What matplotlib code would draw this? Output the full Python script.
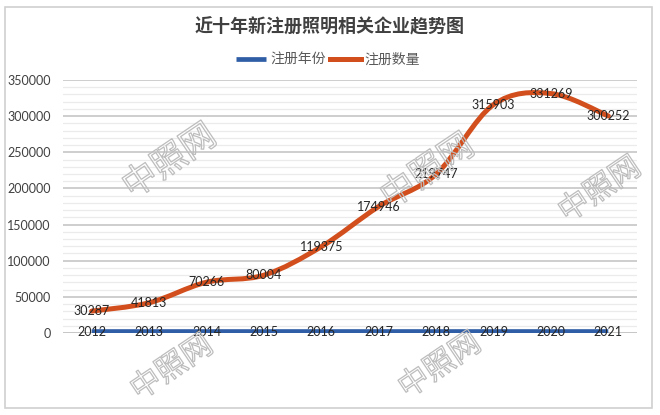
import numpy as np
import matplotlib
matplotlib.use('Agg')
import matplotlib.pyplot as plt
from matplotlib.path import Path
from matplotlib.patches import PathPatch, Rectangle
import matplotlib.patheffects as pe

plt.rcParams['font.family'] = ['Noto Sans CJK SC', 'DejaVu Sans']

# data
years = [2012, 2013, 2014, 2015, 2016, 2017, 2018, 2019, 2020, 2021]
counts = [30287, 41813, 70266, 80004, 119375, 174946, 219747, 315903, 331269, 300252]
title = '近十年新注册照明相关企业趋势图'
series_names = ['注册年份', '注册数量']
y_ticks = [0, 50000, 100000, 150000, 200000, 250000, 300000, 350000]

blue = '#2F5DA6'
orange = '#D24E1C'
num_font = ['Lato', 'DejaVu Sans']


def smooth_path(xs, ys):
    # excel-like smoothed line as cubic bezier segments through the points
    pts = np.column_stack([xs, ys]).astype(float)
    n = len(pts)
    verts = [pts[0]]
    codes = [Path.MOVETO]
    for i in range(n - 1):
        p0 = pts[max(i - 1, 0)]
        p1 = pts[i]
        p2 = pts[i + 1]
        p3 = pts[min(i + 2, n - 1)]
        c1 = p1 + (p2 - p0) / 6.0
        c2 = p2 - (p3 - p1) / 6.0
        verts += [c1, c2, p2]
        codes += [Path.CURVE4] * 3
    return Path(verts, codes)


fig = plt.figure(figsize=(6.6, 4.15), dpi=100)
fig.patch.set_facecolor('white')

# outer chart border
fig.patches.append(Rectangle((5 / 660, 7 / 415), 647 / 660, 401 / 415, transform=fig.transFigure,
                             fill=False, edgecolor='#D0D0D0', linewidth=1.2))

ax = fig.add_axes([63 / 660, 82 / 415, 574 / 660, 253 / 415])
x = np.arange(len(years))

ax.set_xlim(-0.5, len(years) - 0.5)
ax.set_ylim(0, 350000)
ax.set_yticks(y_ticks)
ax.set_yticklabels([str(v) for v in y_ticks], fontfamily=num_font, fontsize=9, color='#404040')
ax.set_yticks(np.arange(0, 350001, 10000), minor=True)
ax.tick_params(axis='y', which='both', length=0, pad=9)
ax.set_xticks([])
ax.grid(axis='y', which='major', color='#C6C6C6', linewidth=1.2, zorder=0)
ax.grid(axis='y', which='minor', color='#EBEBEB', linewidth=0.9, zorder=0)
for s in ax.spines.values():
    s.set_visible(False)
ax.axhline(0, color='#C6C6C6', linewidth=1.2, zorder=1)

# watermarks (kept inside the picture)
wm = [(170, 162, 25), (428, 172, 25), (600, 190, 22), (172, 368, 22), (440, 366, 22)]
for px, py, fs in wm:
    fig.text(px / 660, 1 - py / 415, '中照网', fontsize=fs, rotation=34, ha='center', va='center',
             color='none', zorder=0,
             path_effects=[pe.Stroke(linewidth=0.9, foreground='#BDBDBD')])

# series
ax.plot(x, years, color=blue, linewidth=3.4, solid_capstyle='butt', zorder=3, label=series_names[0])
ax.add_patch(PathPatch(smooth_path(x, counts), facecolor='none', edgecolor=orange,
                       linewidth=3.6, capstyle='round', zorder=3))
ax.plot([], [], color=orange, linewidth=3.6, label=series_names[1])

for xi, yv in zip(x, years):
    ax.text(xi, yv, str(yv), ha='center', va='center', fontfamily=num_font, fontsize=9,
            color='#262626', zorder=4)
for xi, c in zip(x, counts):
    ax.text(xi, c, str(c), ha='center', va='center', fontfamily=num_font, fontsize=9,
            color='#262626', zorder=4)

fig.text(330 / 660, 1 - 27 / 415, title, ha='center', va='center', fontsize=13,
         fontweight='bold', color='#404040')

leg = fig.legend(loc='center', bbox_to_anchor=(328 / 660, 1 - 60 / 415), ncol=2, frameon=False,
                 fontsize=10, handlelength=2.2, handletextpad=0.3, columnspacing=0.3,
                 labelcolor='#595959')

fig.savefig('out.png', dpi=100)
